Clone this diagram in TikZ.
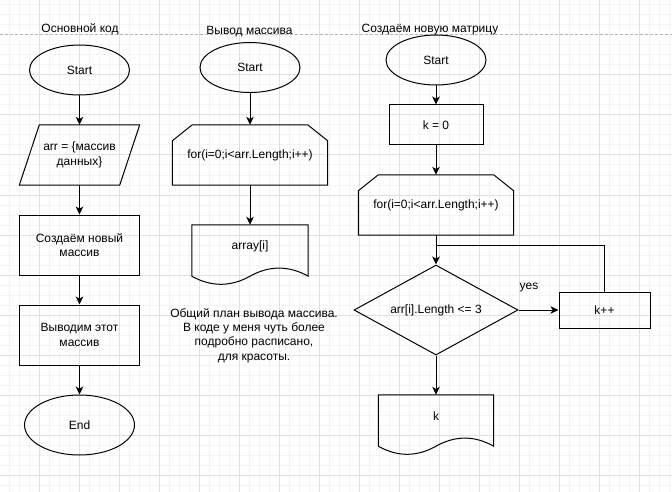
\documentclass[tikz,border=0pt]{standalone}
\usepackage{fontspec}
\setmainfont{Liberation Sans}
\usetikzlibrary{shapes.geometric,arrows.meta}
\definecolor{gminor}{HTML}{F4F4F4}
\definecolor{gmajor}{HTML}{E0E0E0}
\definecolor{pagebreak}{HTML}{B8B8B8}
\begin{document}
\begin{tikzpicture}[x=1pt,y=-1pt,
  every node/.style={font=\fontsize{12}{14.4}\selectfont, inner sep=0pt, align=center},
  line/.style={line width=1pt, draw=black},
  arr/.style={line width=1pt, -{Stealth[length=8pt,width=7.5pt,inset=2.2pt]}},
  ell/.style={ellipse, draw, line width=1pt, minimum width=100pt, minimum height=50pt},
  box/.style={rectangle, draw, line width=1pt},
  ghost/.style={rectangle, draw=none},
  shp/.style={line width=1pt, line join=miter},
  title/.style={anchor=base},
  gridminor/.style={draw=gminor, line width=1pt},
  gridmajor/.style={draw=gmajor, line width=1pt},
]
\useasboundingbox (0,0) rectangle (672,492);
\fill[white] (0,0) rectangle (672,492);
% grid
\foreach \x in {9.5,19.5,...,669.5} \draw[gridminor] (\x,0) -- (\x,492);
\foreach \y in {5,15,...,485} \draw[gridminor] (0,\y) -- (672,\y);
\foreach \x in {39.5,79.5,...,639.5} \draw[gridmajor] (\x,0) -- (\x,492);
\foreach \y in {75,115,...,475} \draw[gridmajor] (0,\y) -- (672,\y);
\draw[draw=pagebreak, line width=1pt, dash pattern=on 3pt off 2pt] (0,35) -- (672,35);

% titles
\node[title] (t1) at (80,32.5) {Основной код};
\node[title] (t2) at (249.5,34.5) {Вывод массива};
\node[title] (t3) at (430,32.5) {Создаём новую матрицу};

% column 1
\node[ell] (s1) at (79.5,70) {Start};
\node[ghost, minimum width=120pt, minimum height=60pt] (p1) at (79.5,155) {arr = \{массив\\данных\}};
\node[box, minimum width=120pt, minimum height=60pt] (r1) at (79.5,245) {Создаём новый\\массив};
\node[box, minimum width=120pt, minimum height=60pt] (r2) at (79.5,335) {Выводим этот\\массив};
\node[ell, minimum width=110pt, minimum height=60pt] (e1) at (79.5,425) {End};
\draw[shp] (p1.south west) -- ([xshift=20pt]p1.north west) -- (p1.north east) -- ([xshift=-20pt]p1.south east) -- cycle;
\draw[arr] (s1.south) -- (p1.north);
\draw[arr] (p1.south) -- (r1.north);
\draw[arr] (r1.south) -- (r2.north);
\draw[arr] (r2.south) -- (e1.north);

% column 2
\node[ell] (s2) at (250,67.5) {Start};
\node[ghost, minimum width=155pt, minimum height=60pt] (l2) at (250,155) {for(i=0;i<arr.Length;i++)};
\node[ghost, minimum width=116pt, minimum height=42pt] (d2) at (250,246) {array[i]};
\draw[shp] ([xshift=20pt]l2.north west) -- ([xshift=-20pt]l2.north east) -- ([yshift=-16pt]l2.north east) -- (l2.south east) -- (l2.south west) -- ([yshift=-16pt]l2.north west) -- cycle;
\draw[shp] (d2.north west) -- (d2.north east) -- ([yshift=-9pt]d2.south east)
  .. controls +(-19.3pt,10.8pt) and +(19.3pt,10.8pt) .. ([yshift=-9pt]d2.south)
  .. controls +(-19.3pt,-10.8pt) and +(19.3pt,-10.8pt) .. ([yshift=-9pt]d2.south west) -- cycle;
\draw[arr] (s2.south) -- (l2.north);
\draw[arr] (l2.south) -- (d2.north);
\node (note) at (254,335.5) {Общий план вывода массива.\\В коде у меня чуть более\\подробно расписано,\\для красоты.};

% column 3
\node[ell] (s3) at (436,60) {Start};
\node[box, minimum width=94pt, minimum height=40pt] (k0) at (436,125) {k = 0};
\node[ghost, minimum width=155pt, minimum height=60pt] (l3) at (436,205) {for(i=0;i<arr.Length;i++)};
\node[diamond, draw, line width=1pt, shape aspect=1.8, minimum width=164pt, minimum height=90pt] (dia) at (436,310) {arr[i].Length <= 3};
\node[box, minimum width=91pt, minimum height=36pt] (kpp) at (604.5,310) {k++};
\node[ghost, minimum width=115pt, minimum height=42pt] (d3) at (436,416) {k};
\node (yes) at (529,288) {yes};
\coordinate (j) at (436,245);
\draw[shp] ([xshift=20pt]l3.north west) -- ([xshift=-20pt]l3.north east) -- ([yshift=-16pt]l3.north east) -- (l3.south east) -- (l3.south west) -- ([yshift=-16pt]l3.north west) -- cycle;
\draw[shp] (d3.north west) -- (d3.north east) -- ([yshift=-9pt]d3.south east)
  .. controls +(-19.2pt,10.8pt) and +(19.2pt,10.8pt) .. ([yshift=-9pt]d3.south)
  .. controls +(-19.2pt,-10.8pt) and +(19.2pt,-10.8pt) .. ([yshift=-9pt]d3.south west) -- cycle;
\draw[arr] (s3.south) -- (k0.north);
\draw[arr] (k0.south) -- (l3.north);
\draw[arr] (l3.south) -- (dia.north);
\draw[line] (kpp.north) |- (j);
\draw[arr] (dia.east) -- (kpp.west);
\draw[arr] (dia.south) -- (d3.north);
\end{tikzpicture}
\end{document}
